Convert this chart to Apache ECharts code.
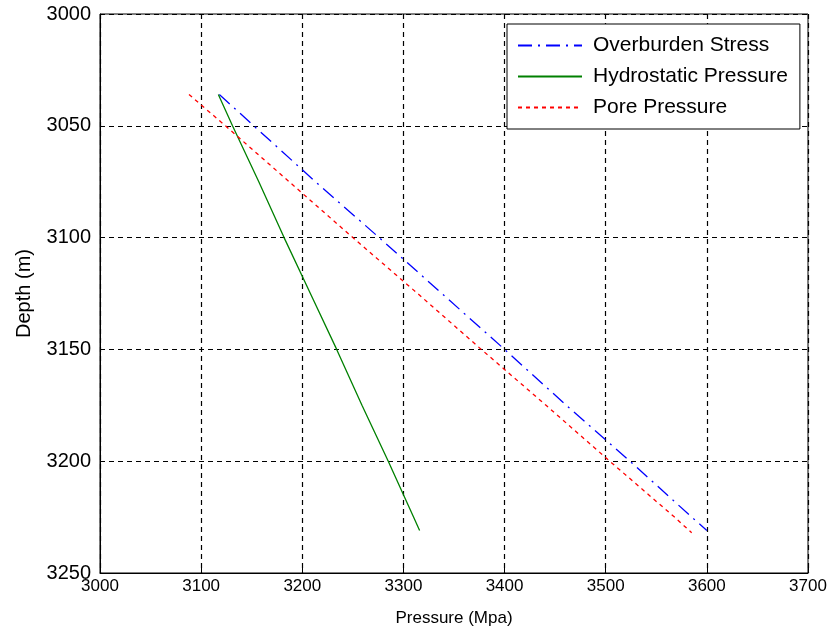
<!DOCTYPE html>
<html>
<head>
<meta charset="utf-8">
<script src="https://cdn.jsdelivr.net/npm/echarts@6/dist/echarts.min.js"></script>
<style>
  html, body { margin: 0; padding: 0; background: #fff; }
  #chart-container { width: 833px; height: 636px; }
</style>
</head>
<body>
<div id="chart-container"></div>
<script>
let depths = [3036, 3050, 3075, 3100, 3125, 3150, 3175, 3200, 3225, 3231];
let overburden = [3118, 3152, 3213, 3276, 3338, 3400, 3461, 3524, 3585, 3600];
let hydrostatic = [3117, 3131, 3157, 3182, 3208, 3234, 3259, 3285, 3310, 3316];
let poreDepths = [3036, 3050, 3075, 3100, 3125, 3150, 3175, 3200, 3225, 3232];
let pore = [3088, 3124, 3187, 3250, 3314, 3377, 3441, 3504, 3568, 3585];
let xTicks = [3000, 3100, 3200, 3300, 3400, 3500, 3600, 3700];
let yTicks = [3000, 3050, 3100, 3150, 3200, 3250];

function pairs(xs, ys) {
    return xs.map((x, i) => [x, ys[i]]);
}

let dom = document.getElementById("chart-container");
let myChart = echarts.init(dom, null, {
    renderer: "canvas",
    useDirtyRect: false,
});

let gridLine = {
    show: true,
    lineStyle: { color: "#000", width: 1.2, type: [5, 4] },
};

let option = {
    backgroundColor: "#fff",
    animation: false,
    grid: {
        left: 100,
        top: 14,
        width: 708,
        height: 559,
        show: true,
        borderColor: "#000",
        borderWidth: 1,
        backgroundColor: "transparent",
    },
    legend: {
        orient: "vertical",
        left: 507,
        top: 24,
        padding: [11, 12, 11, 10],
        itemWidth: 64,
        itemHeight: 20,
        itemGap: 10,
        backgroundColor: "#fff",
        borderColor: "#000",
        borderWidth: 1,
        itemStyle: { opacity: 0 },
        textStyle: {
            fontFamily: "Liberation Sans",
            fontSize: 21,
            color: "#000",
            padding: [0, 0, 0, 6],
        },
        data: ["Overburden Stress", "Hydrostatic Pressure", "Pore Pressure"],
    },
    xAxis: {
        type: "value",
        min: xTicks[0],
        max: xTicks[xTicks.length - 1],
        interval: 100,
        name: "Pressure (Mpa)",
        nameLocation: "middle",
        nameGap: 37,
        nameTextStyle: {
            fontFamily: "Liberation Sans",
            fontSize: 17,
            color: "#000",
        },
        axisLine: { show: true, lineStyle: { color: "#000", width: 1 } },
        axisTick: { show: true, inside: true, length: 5, lineStyle: { color: "#000" } },
        axisLabel: {
            margin: 5,
            fontFamily: "Liberation Sans",
            fontSize: 17,
            color: "#000",
            formatter: (v) => String(v),
        },
        splitLine: gridLine,
    },
    yAxis: {
        type: "value",
        inverse: true,
        min: yTicks[0],
        max: yTicks[yTicks.length - 1],
        interval: 50,
        name: "Depth (m)",
        nameLocation: "middle",
        nameGap: 66,
        nameTextStyle: {
            fontFamily: "Liberation Sans",
            fontSize: 20,
            color: "#000",
        },
        axisLine: { show: true, lineStyle: { color: "#000", width: 1 } },
        axisTick: { show: true, inside: true, length: 5, lineStyle: { color: "#000" } },
        axisLabel: {
            margin: 9,
            fontFamily: "Liberation Sans",
            fontSize: 20,
            color: "#000",
            formatter: (v) => String(v),
        },
        splitLine: gridLine,
    },
    series: [
        {
            name: "Overburden Stress",
            type: "line",
            symbol: "none",
            data: pairs(overburden, depths),
            lineStyle: { color: "#0000ff", width: 1.3, type: [14, 6, 2, 6] },
            itemStyle: { color: "#0000ff" },
        },
        {
            name: "Hydrostatic Pressure",
            type: "line",
            symbol: "none",
            data: pairs(hydrostatic, depths),
            lineStyle: { color: "#008000", width: 1.3, type: "solid" },
            itemStyle: { color: "#008000" },
        },
        {
            name: "Pore Pressure",
            type: "line",
            symbol: "none",
            data: pairs(pore, poreDepths),
            lineStyle: { color: "#ff0000", width: 1.3, type: [4, 4] },
            itemStyle: { color: "#ff0000" },
        },
    ],
};

if (option && typeof option === "object") {
    myChart.setOption(option);
}

window.addEventListener("resize", myChart.resize);
</script>
</body>
</html>
